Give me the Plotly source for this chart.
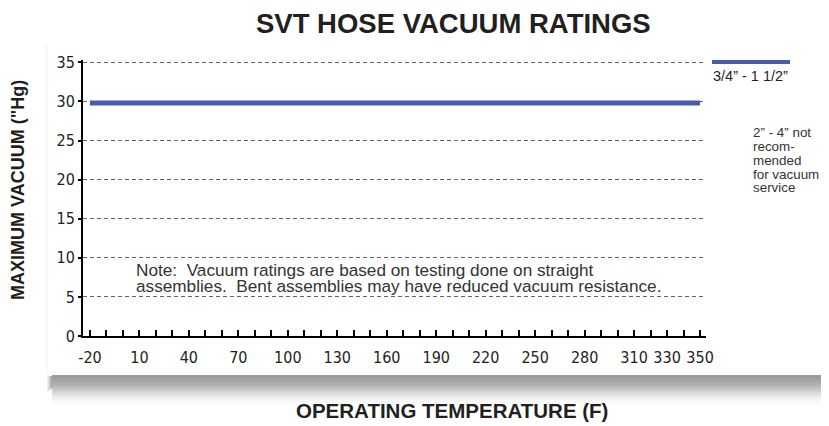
import plotly.graph_objects as go

# ---- data ----
temps = [-20, 350]
vacuum_rating = [29.8, 29.8]
series_name = "3/4\u201d - 1 1/2\u201d"
x_tick_positions = list(range(-20, 351, 10))
x_tick_labels = [-20, 10, 40, 70, 100, 130, 160, 190, 220, 250, 280, 310, 330, 350]
y_tick_values = [0, 5, 10, 15, 20, 25, 30, 35]
note_lines = ["Note:  Vacuum ratings are based on testing done on straight",
              "assemblies.  Bent assemblies may have reduced vacuum resistance."]
side_note_lines = ["2\u201d - 4\u201d not", "recom-", "mended", "for vacuum", "service"]

OFF = 8  # page body margin
W, H = 829 - OFF, 426 - OFF
# target plot-area in window pixels
AX_L, AX_R, AX_T, AX_B = 83, 706, 60, 336
L, R, T, B = AX_L - OFF, W - (AX_R - OFF), AX_T - OFF, H - (AX_B - OFF)
PW, PH = W - L - R, H - T - B

def px(x):
    return (x - OFF - L) / PW

def py(y):
    return (H - B - (y - OFF)) / PH

fig = go.Figure()
fig.add_trace(go.Scatter(x=temps, y=vacuum_rating, mode="lines",
                         line=dict(color="#4B5BA8", width=5), name=series_name,
                         showlegend=False))

shapes = []
# left faint edge of panel
shapes.append(dict(type="line", xref="paper", yref="paper", x0=px(47), x1=px(47), y0=py(375), y1=py(45),
                   line=dict(color="#f0f0f0", width=1), layer="below"))
# bottom shadow gradient
grad = ["#9c9c9e", "#a0a0a2", "#a6a6a8", "#aeaeb0", "#b8b8ba", "#c4c4c6", "#d1d1d2", "#dddddd",
        "#e8e8e8", "#f1f1f1", "#f8f8f8"]
step = 2.5
for i, c in enumerate(grad):
    y0 = 375 + i * step
    shapes.append(dict(type="rect", xref="paper", yref="paper", x0=px(52), x1=px(830),
                       y0=py(y0 + step + 0.8), y1=py(y0), fillcolor=c, line=dict(width=0), layer="below"))
# left fade of bottom shadow
for i, c in enumerate(["#f2f2f2", "#e0e0e1", "#cdcdce", "#bbbbbc", "#aaaaac"]):
    shapes.append(dict(type="rect", xref="paper", yref="paper", x0=px(47 + i * 1), x1=px(48.2 + i * 1),
                       y0=py(392 - i), y1=py(376), fillcolor=c, line=dict(width=0), layer="below"))
# right shadow
for i, c in enumerate(["#a4a4a6", "#b0b0b2", "#c2c2c3", "#d6d6d7"]):
    shapes.append(dict(type="rect", xref="paper", yref="paper", x0=px(823 + i * 1.5), x1=px(825 + i * 1.5),
                       y0=py(375), y1=py(55), fillcolor=c, line=dict(width=0), layer="below"))
# legend line
shapes.append(dict(type="line", xref="paper", yref="paper", x0=px(712), x1=px(790), y0=py(62), y1=py(62),
                   line=dict(color="#4B5BA8", width=4)))

FONT = "Liberation Sans, Arial, Helvetica"
NARROW = "Liberation Sans Narrow, Arial Narrow, DejaVu Sans Condensed, Liberation Sans"

annotations = []
annotations.append(dict(text="<b>SVT HOSE VACUUM RATINGS</b>", xref="paper", yref="paper",
                        x=px(453), y=py(23), xanchor="center", yanchor="middle", showarrow=False,
                        font=dict(family=FONT, size=27.5, color="#231f20")))
annotations.append(dict(text="<b>MAXIMUM VACUUM (\"Hg)</b>", xref="paper", yref="paper",
                        x=px(18), y=py(190), xanchor="center", yanchor="middle", showarrow=False,
                        textangle=-90, font=dict(family=FONT, size=18, color="#231f20")))
annotations.append(dict(text="<b>OPERATING TEMPERATURE (F)</b>", xref="paper", yref="paper",
                        x=px(452), y=py(410), xanchor="center", yanchor="middle", showarrow=False,
                        font=dict(family=FONT, size=20.5, color="#231f20")))
annotations.append(dict(text=series_name, xref="paper", yref="paper",
                        x=px(711), y=py(76), xanchor="left", yanchor="middle", showarrow=False,
                        font=dict(family=FONT, size=14.5, color="#231f20")))
for i, line in enumerate(note_lines):
    annotations.append(dict(text=line, xref="paper", yref="paper",
                            x=px(134), y=py(269.5 + i * 16.5), xanchor="left", yanchor="middle", showarrow=False,
                            font=dict(family=FONT, size=17.2, color="#333333")))
for i, line in enumerate(side_note_lines):
    annotations.append(dict(text=line, xref="paper", yref="paper",
                            x=px(751), y=py(133 + i * 13.7), xanchor="left", yanchor="middle", showarrow=False,
                            font=dict(family=FONT, size=13.4, color="#333333")))

tick_text = [str(v) if v in x_tick_labels else "" for v in x_tick_positions]

fig.update_layout(
    width=W, height=H,
    margin=dict(l=L, r=R, t=T, b=B, autoexpand=False),
    paper_bgcolor="white", plot_bgcolor="white",
    shapes=shapes, annotations=annotations,
    showlegend=False,
    xaxis=dict(range=[-24.2, 353.6], tickmode="array", tickvals=x_tick_positions, ticktext=tick_text,
               ticks="inside", ticklen=6, tickwidth=2, tickcolor="black", ticklabelstandoff=6,
               showline=True, linecolor="black", linewidth=2, showgrid=False, zeroline=False,
               tickfont=dict(family=NARROW, size=16, color="#231f20")),
    yaxis=dict(range=[0, 35.3], tickmode="array", tickvals=y_tick_values,
               ticks="outside", ticklen=3, tickwidth=1.5, tickcolor="black",
               showline=True, linecolor="black", linewidth=2,
               showgrid=True, gridcolor="#666666", gridwidth=1, griddash="4px,3px", zeroline=False,
               tickfont=dict(family=NARROW, size=16, color="#231f20")),
)

fig.write_html("out.html")
